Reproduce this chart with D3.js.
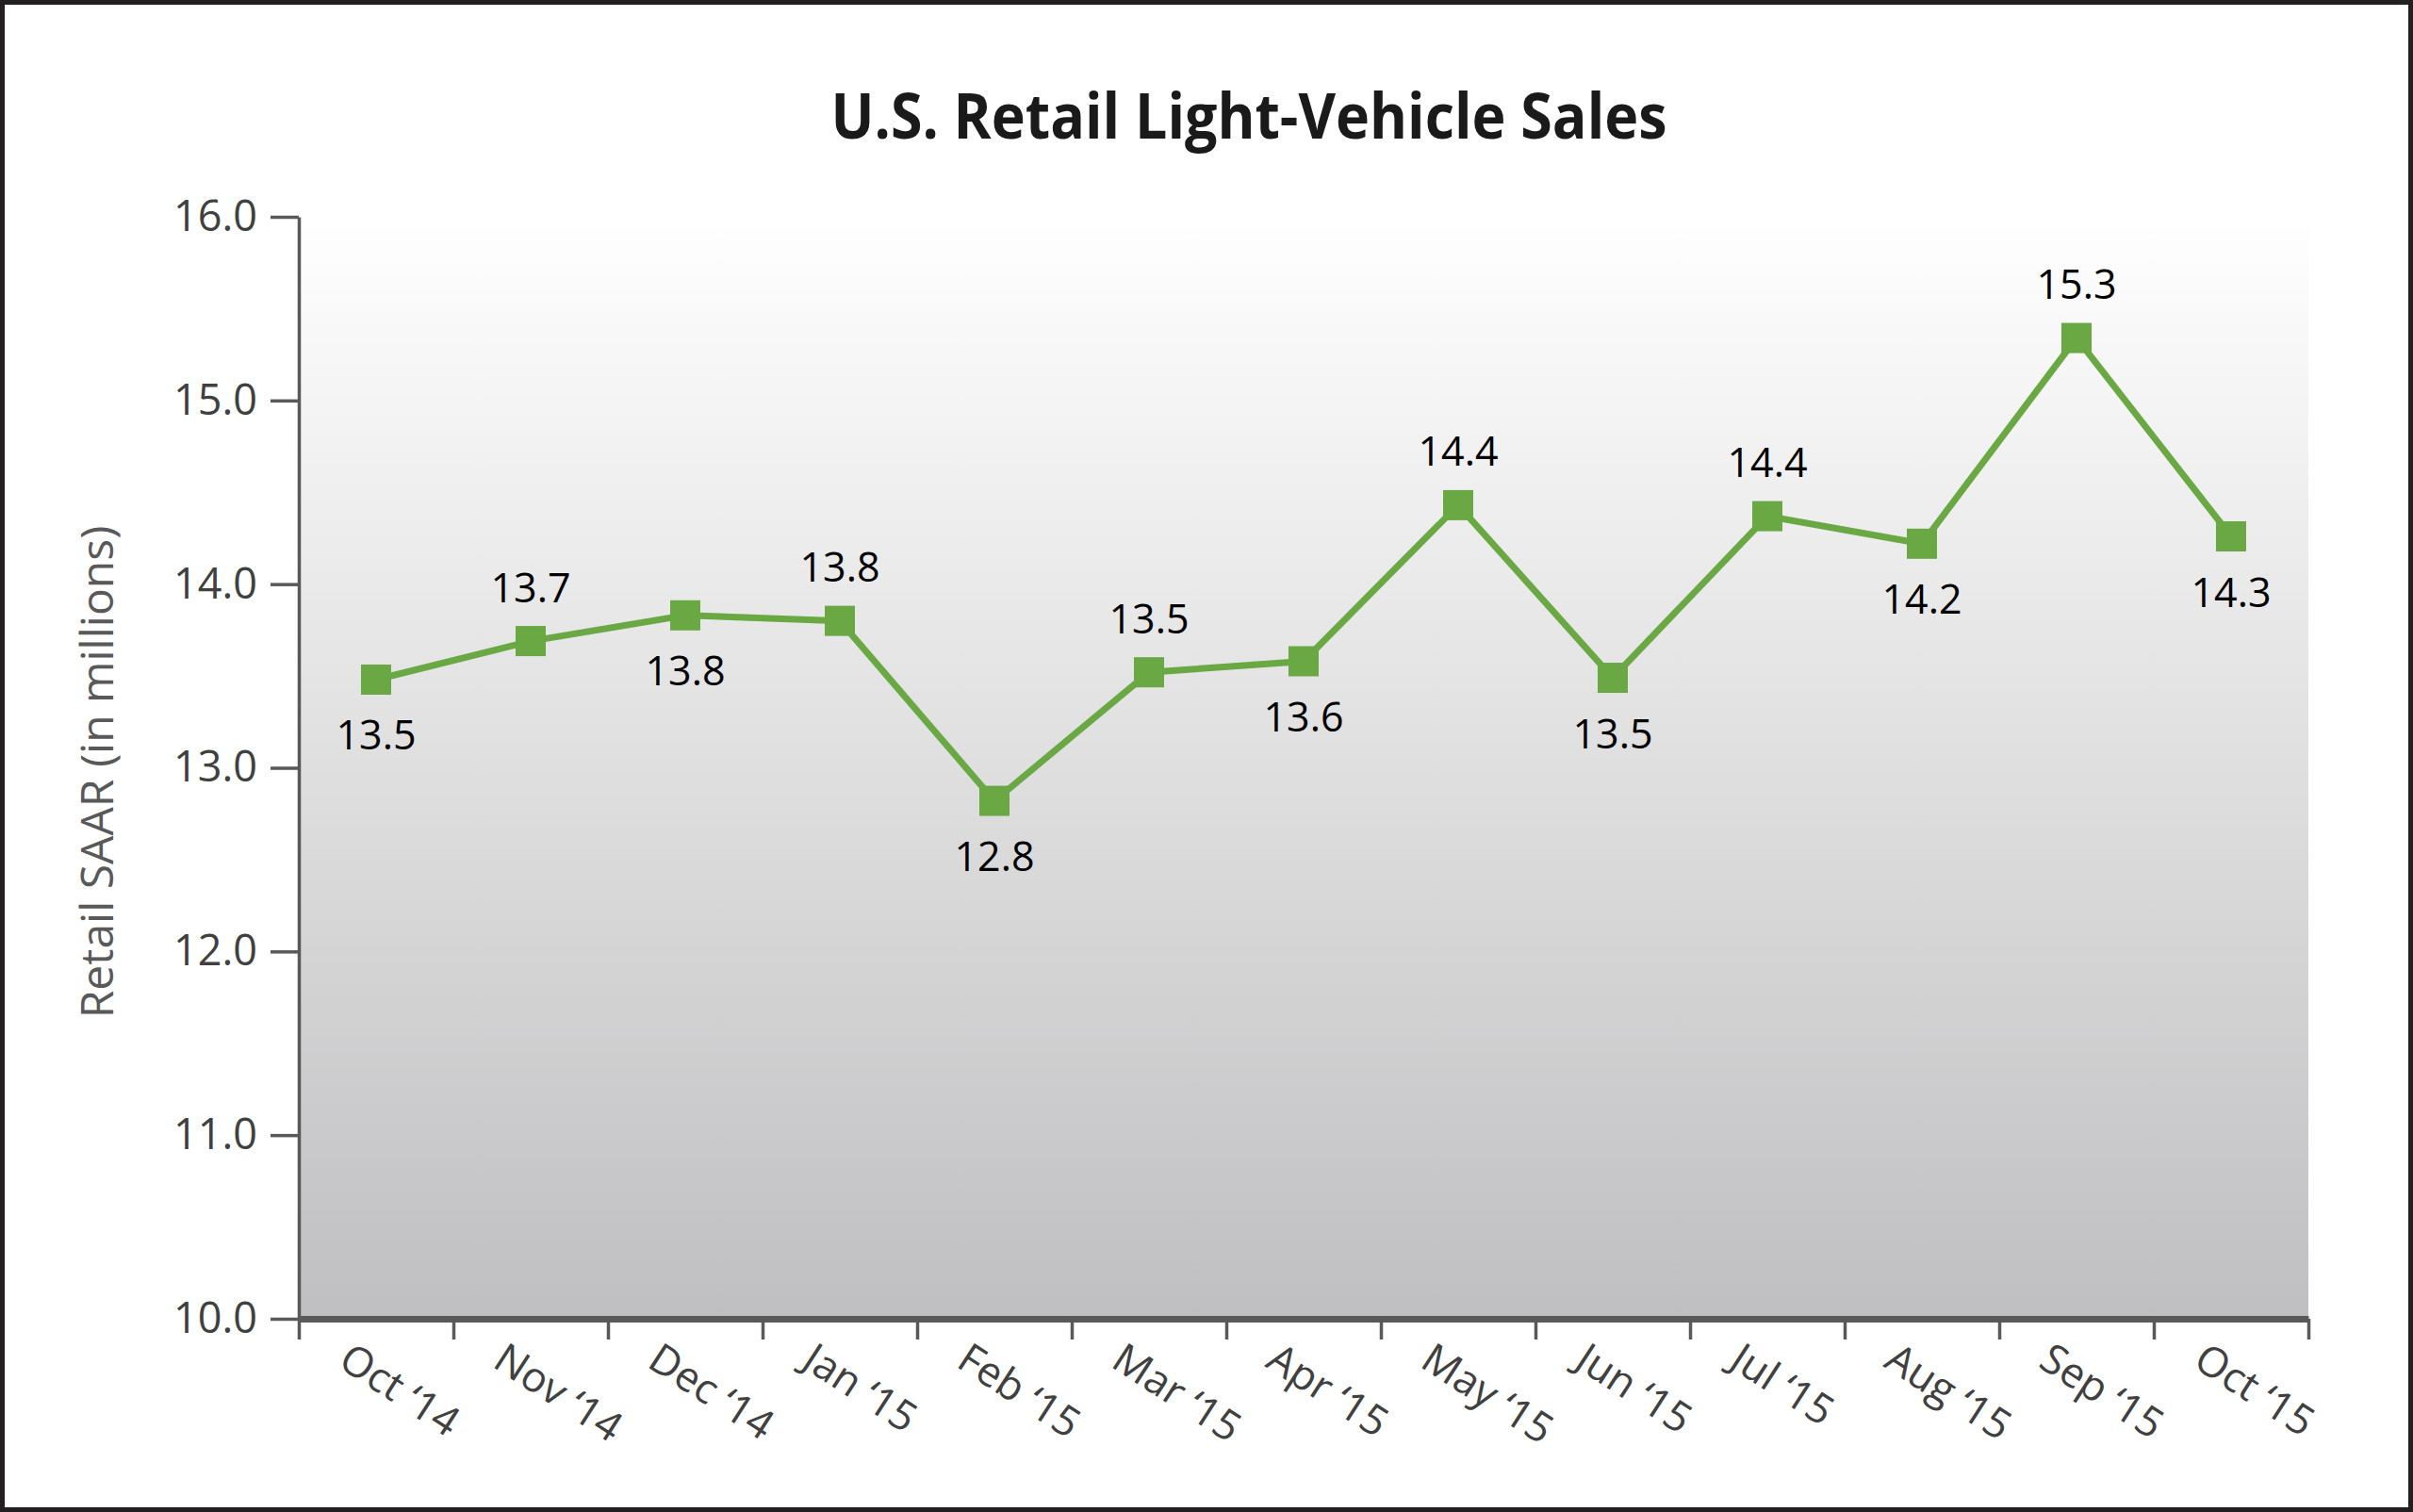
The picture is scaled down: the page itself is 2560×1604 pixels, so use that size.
<!DOCTYPE html>
<html>
<head>
<meta charset="utf-8">
<script src="https://cdn.jsdelivr.net/npm/d3@7"></script>
<style>
  body { margin: 0; background: #fff; }
  svg { display: block; font-family: "Open Sans", sans-serif; }
</style>
</head>
<body>
<div id="chart"></div>
<script>
var months = ["Oct \u201814", "Nov \u201814", "Dec \u201814", "Jan \u201815", "Feb \u201815", "Mar \u201815",
              "Apr \u201815", "May \u201815", "Jun \u201815", "Jul \u201815", "Aug \u201815", "Sep \u201815", "Oct \u201815"];
var sales = [13.48, 13.69, 13.83, 13.80, 12.82, 13.52, 13.58, 14.43, 13.49, 14.37, 14.22, 15.34, 14.26];
var salesLabels = ["13.5", "13.7", "13.8", "13.8", "12.8", "13.5", "13.6", "14.4", "13.5", "14.4", "14.2", "15.3", "14.3"];
var labelSide = ["below", "above", "below", "above", "below", "above", "below", "above", "below", "above", "below", "above", "below"];
var yTicks = [10, 11, 12, 13, 14, 15, 16];

function init(){
    var w = 2560;
    var h = 1604;
    var left = 317, right = 2449, top = 230, bottom = 1399;
    var green = "#6aa843";
    var axisColor = "#595959";

    var svg = d3.select("#chart")
                .append("svg")
                .attr("width", w)
                .attr("height", h);

    // background gradient of the plot area
    var grad = svg.append("defs").append("linearGradient")
                  .attr("id", "bg")
                  .attr("x1", 0).attr("y1", 0)
                  .attr("x2", 0).attr("y2", 1);
    grad.append("stop").attr("offset", "0%").attr("stop-color", "#ffffff");
    grad.append("stop").attr("offset", "100%").attr("stop-color", "#bfbfc1");

    // outer frame
    svg.append("rect")
       .attr("x", 2.5).attr("y", 2.5)
       .attr("width", w - 5).attr("height", h - 5)
       .attr("fill", "none")
       .attr("stroke", "#231f20")
       .attr("stroke-width", 5);

    var x = d3.scaleBand().domain(months).range([left, right]).padding(0);
    var y = d3.scaleLinear().domain([10, 16]).range([bottom, top]);
    var edges = d3.scaleLinear().domain([0, months.length]).range([left, right]);

    svg.append("rect")
       .attr("x", left).attr("y", top)
       .attr("width", right - left).attr("height", bottom - top)
       .attr("fill", "url(#bg)");

    // title
    svg.append("text")
       .attr("x", (left + right) / 2 - 58)
       .attr("y", 147)
       .attr("text-anchor", "middle")
       .attr("font-size", 66)
       .attr("font-weight", "bold")
       .attr("fill", "#1a1a1a")
       .attr("textLength", 887)
       .attr("lengthAdjust", "spacingAndGlyphs")
       .text("U.S. Retail Light-Vehicle Sales");

    // y axis
    var yAxis = svg.append("g")
       .attr("transform", "translate(" + left + ",0)")
       .call(d3.axisLeft(y).tickValues(yTicks).tickFormat(d3.format(".1f")).tickSize(30).tickSizeOuter(0).tickPadding(14));
    yAxis.select(".domain").attr("stroke", axisColor).attr("stroke-width", 3.5);
    yAxis.selectAll(".tick line").attr("stroke", axisColor).attr("stroke-width", 3.5);
    yAxis.selectAll(".tick text")
         .attr("font-size", 45)
         .attr("fill", "#404040")
         .attr("font-family", "Open Sans, sans-serif");

    svg.append("text")
       .attr("transform", "translate(101,819) rotate(-90)")
       .attr("text-anchor", "middle")
       .attr("dominant-baseline", "central")
       .attr("font-size", 48)
       .attr("fill", "#595959")
       .text("Retail SAAR (in millions)");

    // x axis: tick marks at band edges
    var xTicks = svg.append("g")
       .attr("transform", "translate(0," + bottom + ")")
       .call(d3.axisBottom(edges).ticks(months.length).tickFormat("").tickSize(22).tickSizeOuter(0));
    xTicks.select(".domain").attr("stroke", axisColor).attr("stroke-width", 7);
    xTicks.selectAll(".tick line").attr("stroke", axisColor).attr("stroke-width", 3.5);

    // x axis labels
    var xLabels = svg.append("g")
       .attr("transform", "translate(0," + bottom + ")")
       .call(d3.axisBottom(x).tickSize(0).tickPadding(0));
    xLabels.select(".domain").remove();
    xLabels.selectAll(".tick text")
           .attr("font-size", 44)
           .attr("fill", "#404040")
           .attr("font-family", "Open Sans, sans-serif")
           .attr("text-anchor", "start")
           .attr("dy", null)
           .attr("y", null)
           .attr("transform", "translate(-42,50) rotate(33)");

    // line
    var line = d3.line()
                 .x(function(d, i){ return x(months[i]) + x.bandwidth() / 2; })
                 .y(function(d){ return y(d); });

    svg.append("path")
       .datum(sales)
       .attr("d", line)
       .attr("fill", "none")
       .attr("stroke", green)
       .attr("stroke-width", 7)
       .attr("stroke-linejoin", "miter");

    var pts = svg.selectAll("g.pt")
                 .data(sales)
                 .enter()
                 .append("g")
                 .attr("class", "pt")
                 .attr("transform", function(d, i){
                     return "translate(" + (x(months[i]) + x.bandwidth() / 2) + "," + y(d) + ")";
                 });

    pts.append("rect")
       .attr("x", -16).attr("y", -16)
       .attr("width", 32).attr("height", 32)
       .attr("fill", green);

    pts.append("text")
       .attr("y", function(d, i){ return labelSide[i] == "above" ? -58 : 58; })
       .attr("text-anchor", "middle")
       .attr("dominant-baseline", "central")
       .attr("font-size", 43)
       .attr("fill", "#000")
       .text(function(d, i){ return salesLabels[i]; });
}
window.onload = init;
</script>
</body>
</html>
